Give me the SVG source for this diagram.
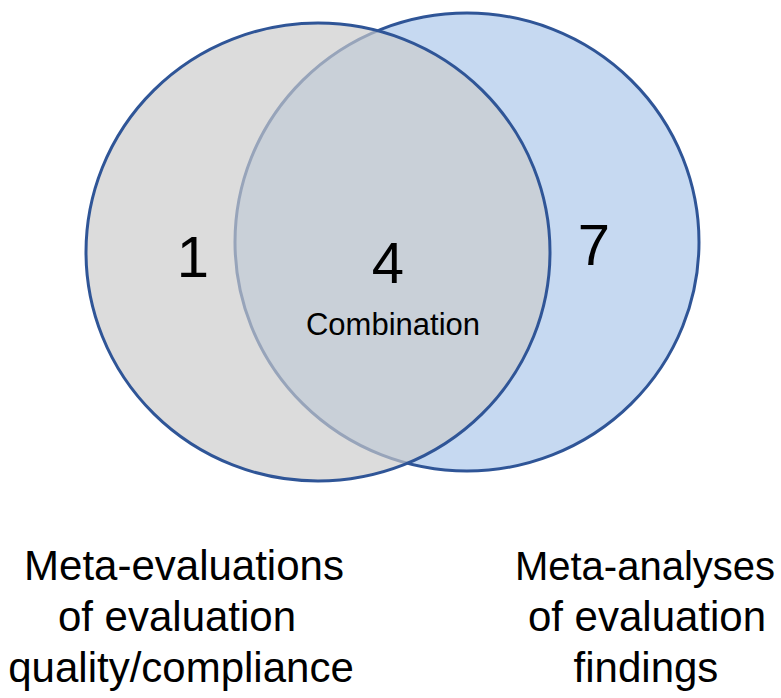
<svg xmlns="http://www.w3.org/2000/svg" width="781" height="698" viewBox="0 0 781 698">
  <style>
    .set-outline { stroke: #2F5597; stroke-width: 3; }
    .count { font-family: "Liberation Sans", Arial, sans-serif; font-size: 58px; fill: #000; text-anchor: middle; }
    .inner { font-family: "Liberation Sans", Arial, sans-serif; font-size: 31px; fill: #000; text-anchor: middle; }
    .caption { font-family: "Liberation Sans", Arial, sans-serif; font-size: 42px; fill: #000; text-anchor: middle; }
  </style>
  <rect width="781" height="698" fill="#FFFFFF"/>

  <!-- Right set: meta-analyses (drawn first, sits underneath) -->
  <g id="set-meta-analyses">
    <ellipse cx="467" cy="242" rx="232" ry="229" fill="#C6D9F1" class="set-outline"/>
  </g>

  <!-- Left set: meta-evaluations, translucent fill over the right set -->
  <g id="set-meta-evaluations">
    <ellipse cx="318" cy="252" rx="232" ry="229" fill="#CBCBCB" fill-opacity="0.67" class="set-outline"/>
  </g>

  <!-- Region counts -->
  <g id="count-left-only">
    <text class="count" x="193" y="277">1</text>
  </g>
  <g id="count-overlap">
    <text class="count" x="388" y="283">4</text>
    <text class="inner" x="393" y="335">Combination</text>
  </g>
  <g id="count-right-only">
    <text class="count" x="594" y="265">7</text>
  </g>

  <!-- Set captions -->
  <g id="caption-left">
    <text class="caption" x="184" y="580">Meta-evaluations</text>
    <text class="caption" x="177" y="631">of evaluation</text>
    <text class="caption" x="181" y="682">quality/compliance</text>
  </g>
  <g id="caption-right">
    <text class="caption" x="645" y="580" style="font-size:40px">Meta-analyses</text>
    <text class="caption" x="647" y="631">of evaluation</text>
    <text class="caption" x="646" y="682">findings</text>
  </g>
</svg>
